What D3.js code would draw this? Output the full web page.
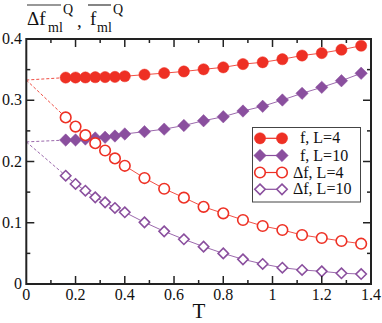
<!DOCTYPE html>
<html><head><meta charset="utf-8">
<script src="https://cdn.jsdelivr.net/npm/d3@7/dist/d3.min.js"></script>
<style>body{margin:0;background:#fff}svg{display:block}text{font-family:"Liberation Serif","Times New Roman",serif;fill:#111}</style>
</head><body><svg id="c" width="382" height="323"></svg>
<script>
const T = [0.16,0.20,0.24,0.28,0.32,0.36,0.40,0.48,0.56,0.64,0.72,0.80,0.88,0.96,1.04,1.12,1.20,1.28,1.36];
const fL4 = [0.3370,0.3371,0.3372,0.3376,0.3378,0.3381,0.3392,0.3418,0.3443,0.3470,0.3505,0.3537,0.3590,0.3620,0.3670,0.3730,0.3770,0.3825,0.3890];
const fL10 = [0.2350,0.2352,0.2367,0.2384,0.2395,0.2416,0.2450,0.2487,0.2528,0.2588,0.2666,0.2731,0.2824,0.2901,0.3004,0.3113,0.3211,0.3319,0.3440];
const dfL4 = [0.2720,0.2570,0.2430,0.2300,0.2180,0.2050,0.1930,0.1730,0.1555,0.1410,0.1260,0.1154,0.1045,0.0947,0.0882,0.0800,0.0751,0.0702,0.0658];
const dfL10 = [0.1768,0.1633,0.1523,0.1415,0.1333,0.1241,0.1171,0.1007,0.0860,0.0730,0.0610,0.0500,0.0403,0.0327,0.0266,0.0229,0.0207,0.0175,0.0163];
const extrapL4 = 0.333, extrapL10 = 0.232;
const xTicks = [0,0.2,0.4,0.6,0.8,1,1.2,1.4];
const yTicks = [0,0.1,0.2,0.3,0.4];
const legendLabels = ["f, L=4","f, L=10","\u0394f, L=4","\u0394f, L=10"];

const RED = "#ee3024", PUR = "#8a4f9e";
const svg = d3.select("#c");
const x = d3.scaleLinear().domain([0,1.4]).range([26.3,371]);
const y = d3.scaleLinear().domain([0,0.4]).range([284,39]);

const series = [
  {v:fL4, c:RED, m:"circle", fill:true, e:extrapL4},
  {v:fL10, c:PUR, m:"diamond", fill:true, e:extrapL10},
  {v:dfL4, c:RED, m:"circle", fill:false, e:extrapL4},
  {v:dfL10, c:PUR, m:"diamond", fill:false, e:extrapL10}
];

function marker(g, m, fill, c, cx, cy) {
  if (m === "circle") {
    g.append("circle").attr("cx",cx).attr("cy",cy).attr("r", fill?5.6:5.3)
      .attr("fill", fill?c:"#fff").attr("stroke",c).attr("stroke-width", fill?0.5:1.6);
  } else {
    const s = fill?6.2:5.2;
    g.append("path").attr("d",`M${cx},${cy-s}L${cx+s},${cy}L${cx},${cy+s}L${cx-s},${cy}Z`)
      .attr("fill", fill?c:"#fff").attr("stroke",c).attr("stroke-width", fill?0.5:1.6);
  }
}

const plot = svg.append("g");
series.forEach(s => {
  plot.append("line").attr("x1",x(0)).attr("y1",y(s.e)).attr("x2",x(T[0])).attr("y2",y(s.v[0]))
    .attr("stroke",s.c).attr("stroke-width",1).attr("stroke-dasharray","3,2").attr("opacity",0.85);
});
const line = d3.line().x((d,i)=>x(T[i])).y(d=>y(d));
series.forEach(s => {
  plot.append("path").attr("d",line(s.v)).attr("fill","none").attr("stroke",s.c).attr("stroke-width",1).attr("opacity",0.85);
});
series.forEach(s => {
  const g = plot.append("g");
  s.v.forEach((v,i)=>marker(g, s.m, s.fill, s.c, x(T[i]), y(v)));
});

const AX = "#222";
svg.append("rect").attr("x",x(0)).attr("y",y(0.4)).attr("width",x(1.4)-x(0)).attr("height",y(0)-y(0.4))
  .attr("fill","none").attr("stroke",AX).attr("stroke-width",2);

const xMinor = d3.range(0.1,1.4,0.2);
const yMinor = d3.range(0.05,0.4,0.1);
const tk = svg.append("g").attr("stroke",AX).attr("stroke-width",1.5);
xTicks.slice(1,-1).forEach(t=>{
  tk.append("line").attr("x1",x(t)).attr("x2",x(t)).attr("y1",y(0)).attr("y2",y(0)-8);
  tk.append("line").attr("x1",x(t)).attr("x2",x(t)).attr("y1",y(0.4)).attr("y2",y(0.4)+8);
});
xMinor.forEach(t=>{
  tk.append("line").attr("x1",x(t)).attr("x2",x(t)).attr("y1",y(0)).attr("y2",y(0)-4);
  tk.append("line").attr("x1",x(t)).attr("x2",x(t)).attr("y1",y(0.4)).attr("y2",y(0.4)+4);
});
yTicks.slice(1,-1).forEach(t=>{
  tk.append("line").attr("y1",y(t)).attr("y2",y(t)).attr("x1",x(0)).attr("x2",x(0)+8);
  tk.append("line").attr("y1",y(t)).attr("y2",y(t)).attr("x1",x(1.4)).attr("x2",x(1.4)-8);
});
yMinor.forEach(t=>{
  tk.append("line").attr("y1",y(t)).attr("y2",y(t)).attr("x1",x(0)).attr("x2",x(0)+4);
  tk.append("line").attr("y1",y(t)).attr("y2",y(t)).attr("x1",x(1.4)).attr("x2",x(1.4)-4);
});

svg.append("g").selectAll("text").data(xTicks).join("text")
  .attr("x",d=>x(d)).attr("y",300).attr("text-anchor","middle").attr("font-size",16)
  .text(d=>d3.format("")(d));
svg.append("g").selectAll("text").data(yTicks).join("text")
  .attr("x",22).attr("y",d=>y(d)+5).attr("text-anchor","end").attr("font-size",16)
  .text(d=>d3.format("")(d));

svg.append("text").attr("x",199).attr("y",318).attr("text-anchor","middle").attr("font-size",21).text("T");

const ttl = svg.append("g");
ttl.append("text").attr("x",27).attr("y",25).attr("font-size",19).text("\u0394f");
ttl.append("text").attr("x",48).attr("y",32).attr("font-size",14).text("ml");
ttl.append("text").attr("x",63).attr("y",14).attr("font-size",14).text("Q");
ttl.append("text").attr("x",77).attr("y",27).attr("font-size",19).text(",");
ttl.append("text").attr("x",90).attr("y",25).attr("font-size",19).text("f");
ttl.append("text").attr("x",97).attr("y",32).attr("font-size",14).text("ml");
ttl.append("text").attr("x",113).attr("y",14).attr("font-size",14).text("Q");
ttl.append("line").attr("x1",27).attr("x2",61).attr("y1",5).attr("y2",5).attr("stroke","#333").attr("stroke-width",1.2);
ttl.append("line").attr("x1",88).attr("x2",111).attr("y1",5).attr("y2",5).attr("stroke","#333").attr("stroke-width",1.2);

const lg = svg.append("g");
lg.append("rect").attr("x",252.5).attr("y",127.5).attr("width",108).attr("height",74.5)
  .attr("fill","#fff").attr("stroke","#444").attr("stroke-width",1);
const rowY = [138.3,155.5,172.5,189.3];
series.forEach((s,i)=>{
  const yy = rowY[i];
  lg.append("line").attr("x1",260).attr("x2",282).attr("y1",yy).attr("y2",yy).attr("stroke",s.c).attr("stroke-width",1.2);
  marker(lg, s.m, s.fill, s.c, 260, yy);
  marker(lg, s.m, s.fill, s.c, 282, yy);
  lg.append("text").attr("x", i<2?300:293).attr("y",yy+5).attr("font-size",16).text(legendLabels[i]);
});
</script></body></html>
